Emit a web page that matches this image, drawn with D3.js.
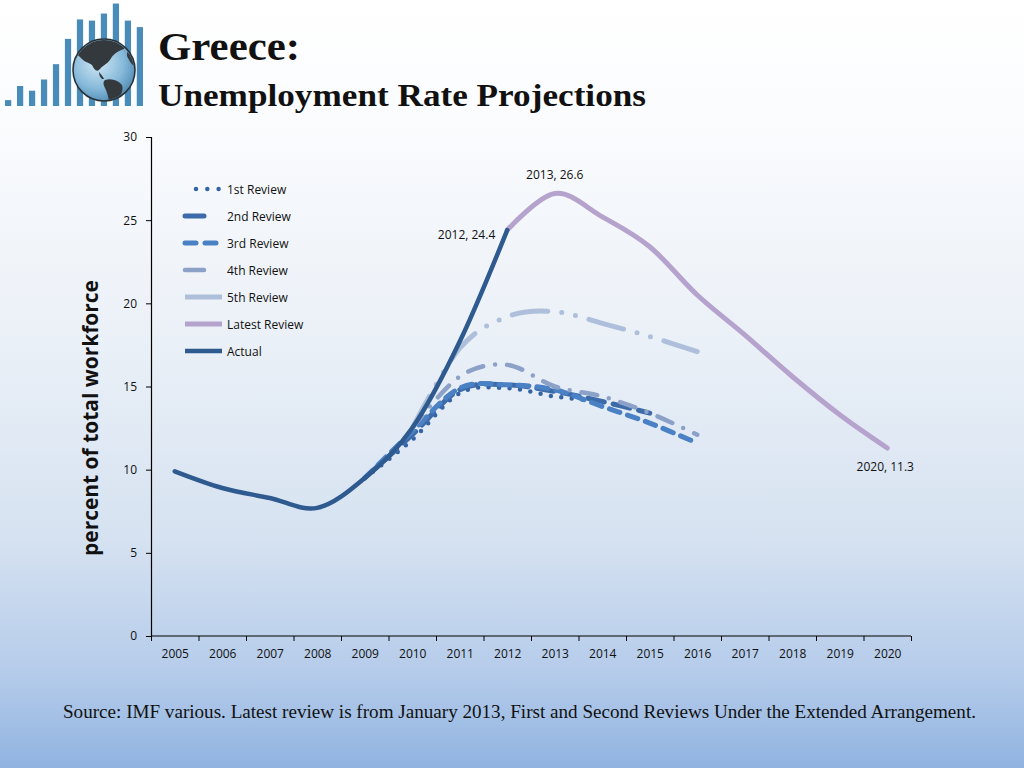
<!DOCTYPE html>
<html><head><meta charset="utf-8">
<script src="https://cdnjs.cloudflare.com/ajax/libs/d3/7.8.5/d3.min.js"></script>
<style>html,body{margin:0;padding:0;overflow:hidden;}svg{display:block;}</style>
</head><body>
<svg id="chart" width="1024" height="768"></svg>
<script>
// ---- data ----
const years = ["2005","2006","2007","2008","2009","2010","2011","2012","2013","2014","2015","2016","2017","2018","2019","2020"];
const actualYears = ["2005","2006","2007","2008","2009","2010","2011","2012"];
const actualVals  = [9.9, 8.9, 8.3, 7.7, 9.5, 12.5, 17.7, 24.4];
const review1Years = ["2009","2010","2011","2012","2013","2014"];
const review1Vals  = [9.5, 11.8, 14.6, 14.9, 14.4, 14.1];
const review2Years = ["2009","2010","2011","2012","2013","2014","2015"];
const review2Vals  = [9.5, 12.1, 14.8, 15.1, 14.7, 14.1, 13.4];
const review3Years = ["2009","2010","2011","2012","2013","2014","2015","2016"];
const review3Vals  = [9.5, 12.3, 14.9, 15.1, 14.8, 13.8, 12.8, 11.6];
const review4Years = ["2010","2011","2012","2013","2014","2015","2016"];
const review4Vals  = [12.5, 15.6, 16.3, 15.0, 14.4, 13.4, 12.1];
const review5Years = ["2010","2011","2012","2013","2014","2015","2016"];
const review5Vals  = [12.5, 17.3, 19.2, 19.5, 18.8, 18.0, 17.1];
const latestYears = ["2012","2013","2014","2015","2016","2017","2018","2019","2020"];
const latestVals  = [24.4, 26.6, 25.2, 23.4, 20.5, 18.1, 15.6, 13.3, 11.3];
const yTicks = [0, 5, 10, 15, 20, 25, 30];
const seriesNames = ["1st Review","2nd Review","3rd Review","4th Review","5th Review","Latest Review","Actual"];
const pointLabels = [["2012", 24.4, "2012, 24.4"], ["2013", 26.6, "2013, 26.6"], ["2020", 11.3, "2020, 11.3"]];
const logoBars = [1, 3.4, 2.6, 4.5, 7.1, 11.4, 14.7, 14.5, 15.7, 17.4, 14.5, 13.4];

const svg = d3.select("#chart");
const defs = svg.append("defs");

// background
const bg = defs.append("linearGradient").attr("id","bg").attr("x1",0).attr("x2",0).attr("y1",0).attr("y2",1);
[[0,"#ffffff"],[0.15,"#fbfcfe"],[0.45,"#eaf0f7"],[0.7,"#d6e2f1"],[0.88,"#b4cbea"],[1,"#90b3e0"]].forEach(s=>bg.append("stop").attr("offset",s[0]).attr("stop-color",s[1]));
svg.append("rect").attr("width",1024).attr("height",768).attr("fill","url(#bg)");

// ---- logo ----
const logo = svg.append("g");
const lbX = d3.scaleBand().domain(d3.range(logoBars.length)).range([5,143]).paddingInner(0.48);
const lbY = d3.scaleLinear().domain([0,18]).range([106,0]);
logo.selectAll("rect").data(logoBars).join("rect")
  .attr("x",(d,i)=>lbX(i)).attr("width",lbX.bandwidth())
  .attr("y",d=>lbY(d)).attr("height",d=>106-lbY(d)).attr("fill","#4a8cb9");
const gg = defs.append("radialGradient").attr("id","globe").attr("cx","40%").attr("cy","38%").attr("r","70%");
gg.append("stop").attr("offset",0).attr("stop-color","#d2e8f4");
gg.append("stop").attr("offset",0.6).attr("stop-color","#86b9da");
gg.append("stop").attr("offset",1).attr("stop-color","#4a86b0");
logo.append("circle").attr("cx",104).attr("cy",70).attr("r",31).attr("fill","url(#globe)").attr("stroke","#2a3136").attr("stroke-width",1.6);
defs.append("clipPath").attr("id","gclip").append("circle").attr("cx",104).attr("cy",70).attr("r",30);
const cont = logo.append("g").attr("clip-path","url(#gclip)").attr("fill","#34393d");
cont.append("path").attr("d","M76,50 C82,42 96,38 112,40 C120,41 126,44 124,49 C118,51 113,54 110,60 C107,64 102,66 99,70 C96,72 94,69 92,65 C88,62 84,62 81,58 C78,55 75,53 76,50 Z");
cont.append("path").attr("d","M99,72 C101,74 103,77 104,79 L102,79 C100,77 99,75 99,72 Z");
cont.append("path").attr("d","M105,80 C111,78 118,80 122,85 C124,91 120,97 116,101 L109,104 C109,98 107,92 105,88 C103,84 103,82 105,80 Z");
cont.append("path").attr("d","M127,52 C131,55 134,60 134,66 C131,64 129,60 127,56 Z");

// ---- titles ----
svg.append("text").attr("x",158).attr("y",60).attr("font-family","Liberation Serif, serif").attr("font-weight","bold").attr("font-size",40).attr("fill","#111")
  .attr("textLength",142).attr("lengthAdjust","spacingAndGlyphs").text("Greece:");
svg.append("text").attr("x",158).attr("y",106).attr("font-family","Liberation Serif, serif").attr("font-weight","bold").attr("font-size",31).attr("fill","#111")
  .attr("textLength",488).attr("lengthAdjust","spacingAndGlyphs").text("Unemployment Rate Projections");

// ---- scales ----
const x0 = 151, x1 = 911, yTop = 137, yBot = 636;
const x = d3.scalePoint().domain(years).range([x0,x1]).padding(0.5);
const xb = d3.scaleLinear().domain([0, years.length]).range([x0,x1]);
const y = d3.scaleLinear().domain([0,30]).range([yBot,yTop]);
const fontAxis = "Open Sans, sans-serif";

// y axis
const ya = svg.append("g").attr("transform",`translate(${x0},0)`)
  .call(d3.axisLeft(y).tickValues(yTicks).tickSize(5).tickPadding(9));
ya.select(".domain").attr("stroke","#000").attr("stroke-width",1.2);
ya.selectAll(".tick line").attr("stroke","#000");
ya.selectAll("text").attr("font-family",fontAxis).attr("font-size",12).attr("fill","#111");

// x axis ticks (boundaries)
const xa = svg.append("g").attr("transform",`translate(0,${yBot})`)
  .call(d3.axisBottom(xb).tickValues(d3.range(0,years.length+1)).tickSize(5).tickFormat(""));
xa.select(".domain").attr("stroke","#000").attr("stroke-width",1.2).attr("d",`M${x0},0H${x1}`);
xa.selectAll(".tick line").attr("stroke","#000");
const xl = svg.append("g").attr("transform",`translate(0,${yBot})`)
  .call(d3.axisBottom(x).tickSize(0).tickPadding(13));
xl.select(".domain").remove();
xl.selectAll("text").attr("font-family",fontAxis).attr("font-size",12).attr("fill","#111");

// y title
svg.append("text").attr("transform","translate(98,418) rotate(-90)").attr("text-anchor","middle")
  .attr("font-family",fontAxis).attr("font-weight","bold").attr("font-size",21).attr("fill","#111")
  .attr("textLength",276).attr("lengthAdjust","spacingAndGlyphs")
  .text("percent of total workforce");

// ---- lines ----
const line = d3.line().x(d=>x(d[0])).y(d=>y(d[1])).curve(d3.curveCatmullRom.alpha(0));
const styles = [
  {ys:review1Years, vs:review1Vals, c:"#3464a4", w:4.5, dash:"0,10.5"},
  {ys:review2Years, vs:review2Vals, c:"#3d6ba9", w:5, dash:"17,9"},
  {ys:review3Years, vs:review3Vals, c:"#4a80c4", w:5, dash:"11,8"},
  {ys:review4Years, vs:review4Vals, c:"#8ca1c8", w:4.5, dash:"16,12,0,12"},
  {ys:review5Years, vs:review5Vals, c:"#adbfda", w:5, dash:"36,14,0,14,0,14"},
  {ys:latestYears, vs:latestVals, c:"#b5a3cd", w:5, dash:null},
  {ys:actualYears, vs:actualVals, c:"#2e5a8f", w:4.5, dash:null}
];
const lg = svg.append("g");
styles.forEach((s,i)=>{
  lg.append("path").datum(s.ys.map((yr,j)=>[yr,s.vs[j]]))
    .attr("d",line).attr("fill","none").attr("stroke",s.c).attr("stroke-width",s.w)
    .attr("stroke-linecap","round").attr("stroke-linejoin","round")
    .attr("stroke-dasharray",s.dash);
});

// point labels
const lblOff = [[-12, 5, "end"], [0, -19, "middle"], [-2, 19, "middle"]];
svg.append("g").selectAll("text").data(pointLabels).join("text")
  .attr("x",(d,i)=> x(d[0]) + lblOff[i][0])
  .attr("y",(d,i)=> y(d[1]) + lblOff[i][1])
  .attr("text-anchor",(d,i)=> lblOff[i][2])
  .attr("dy","0.35em")
  .attr("font-family",fontAxis).attr("font-size",12).attr("fill","#111")
  .text(d=>d[2]);

// ---- legend ----
const legY = d3.scalePoint().domain(seriesNames).range([189,351]);
const leg = svg.append("g");
const legLen = [[196,219],[185,204],[185,221],[185,204],[185,222],[185,222],[185,222]];
seriesNames.forEach((n,i)=>{
  const s = styles[i];
  const yy = legY(n);
  leg.append("line").attr("x1",legLen[i][0]).attr("x2",legLen[i][1]).attr("y1",yy).attr("y2",yy)
    .attr("stroke",s.c).attr("stroke-width",s.w).attr("stroke-linecap", i>=4 ? "butt":"round")
    .attr("stroke-dasharray", i===0 ? "0,11.3" : (i===2 ? "11,9" : null));
  leg.append("text").attr("x",227).attr("y",yy+1).attr("dy","0.35em")
    .attr("font-family",fontAxis).attr("font-size",12).attr("fill","#111").text(n);
});

// ---- source ----
svg.append("text").attr("x",63).attr("y",718).attr("font-family","Liberation Serif, serif").attr("font-size",18)
  .attr("fill","#111").attr("textLength",913).attr("lengthAdjust","spacingAndGlyphs")
  .text("Source: IMF various. Latest review is from January 2013, First and Second Reviews Under the Extended Arrangement.");
</script>
</body></html>
